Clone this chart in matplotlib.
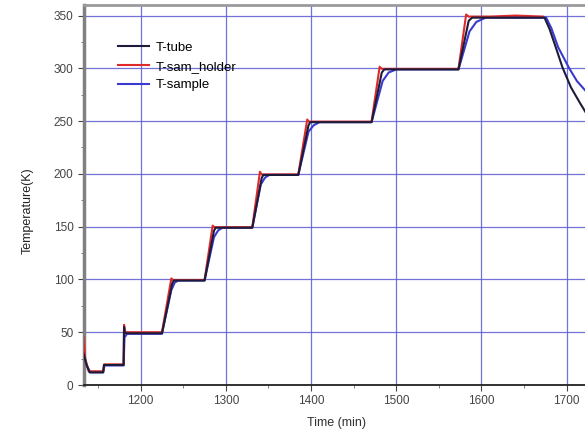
import matplotlib
matplotlib.use('Agg')
import matplotlib.pyplot as plt
from matplotlib.ticker import MultipleLocator

# T-tube (black)
t_tube = [1133, 1136, 1140, 1156, 1157, 1180, 1180.5, 1181, 1183, 1225, 1237, 1239,
          1275, 1286, 1288, 1331, 1342, 1344, 1385, 1397, 1399, 1471, 1483, 1486,
          1573, 1585, 1589, 1674, 1680, 1688, 1695, 1705, 1715, 1724]
T_tube = [30, 20, 12, 12, 19, 19, 55, 50, 49, 49, 96, 99,
          99, 146, 149, 149, 196, 199, 199, 246, 249, 249, 296, 299,
          299, 345, 348, 348, 337, 318, 301, 282, 268, 256]

# T-sam_holder (red)
t_holder = [1133, 1135, 1139, 1156, 1157, 1180, 1180.5, 1182, 1225, 1236, 1238,
            1275, 1284.5, 1286.5, 1331, 1340, 1342, 1385, 1395.5, 1397.5,
            1471, 1480.5, 1483, 1573, 1582, 1585, 1610, 1640, 1672]
T_holder = [45, 25, 13, 13, 19.5, 19.5, 57, 50, 50, 101, 99.5,
            99.5, 151, 149.5, 149.5, 202, 199.5, 199.5, 251.5, 249.5,
            249.5, 301.5, 299.5, 299.5, 351, 349, 349, 350, 349]

# T-sample (blue)
t_sample = [1133, 1137, 1141, 1156, 1157.5, 1180, 1181, 1184, 1225, 1236, 1240, 1244,
            1275, 1286, 1291, 1296, 1331, 1341, 1346, 1351, 1385, 1397, 1403, 1410,
            1471, 1484, 1491, 1500, 1573, 1586, 1594, 1605, 1676, 1682, 1690, 1703,
            1712, 1724]
T_sample = [28, 18, 12, 12, 18.5, 18.5, 45, 48.5, 48.5, 90, 97, 99,
            99, 140, 146.5, 149, 149, 190, 196.5, 199, 199, 240, 246, 249,
            249, 288, 296, 299, 299, 335, 344, 348, 348, 338, 320, 300,
            288, 277]

plt.rcParams['font.family'] = ['Liberation Sans', 'DejaVu Sans']

fig = plt.figure(figsize=(5.85, 4.34), dpi=100)
ax = fig.add_axes([0.1436, 0.1129, 0.8564, 0.8756])

ax.plot(t_tube, T_tube, color='#1c1c3a', lw=1.5, label='T-tube', zorder=4)
ax.plot(t_holder, T_holder, color='#e02a2a', lw=1.5, label='T-sam_holder', zorder=3)
ax.plot(t_sample, T_sample, color='#3a3ad0', lw=1.5, label='T-sample', zorder=2)

ax.set_xlim(1133.5, 1721.5)
ax.set_ylim(0, 360)
ax.xaxis.set_major_locator(MultipleLocator(100))
ax.xaxis.set_minor_locator(MultipleLocator(50))
ax.yaxis.set_major_locator(MultipleLocator(50))
ax.yaxis.set_minor_locator(MultipleLocator(25))
ax.grid(True, which='major', color='#5a5ad0', lw=0.9, alpha=0.85)
ax.set_axisbelow(True)

ax.tick_params(which='major', direction='out', length=4, labelsize=8.5, colors='#444444')
ax.tick_params(which='minor', direction='out', length=2.5, colors='#666666')

ax.spines['left'].set_color('#808080')
ax.spines['left'].set_linewidth(2.5)
ax.spines['top'].set_color('#9a9a9a')
ax.spines['top'].set_linewidth(2)
ax.spines['bottom'].set_color('#222222')
ax.spines['bottom'].set_linewidth(1.3)
ax.spines['right'].set_visible(False)

ax.set_xlabel('Time (min)', fontsize=9, color='#333333')
ax.set_ylabel('Temperature(K)', fontsize=9, color='#222222')
ax.xaxis.set_label_coords((336 - 84) / 501, -0.085)
ax.yaxis.set_label_coords(-0.10, 0.46)

ax.legend(loc='upper left', bbox_to_anchor=(0.045, 0.935), frameon=False,
          fontsize=9.5, handlelength=2.3, handletextpad=0.55, labelspacing=0.5)

fig.savefig('out.png', dpi=100)
